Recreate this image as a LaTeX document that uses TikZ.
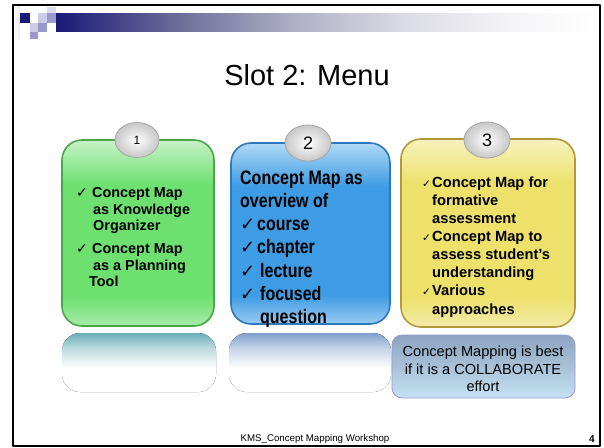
\documentclass[tikz,border=0pt]{standalone}
\usepackage{fontspec}
\setmainfont{Liberation Sans}
\newfontfamily\narrowfont[FakeStretch=0.82]{Liberation Sans}
\newfontfamily\symfont{DejaVu Sans}
\usepackage{pgf,tikz}
\usetikzlibrary{arrows}
\usetikzlibrary{arrows.meta}
\usetikzlibrary{shapes.geometric}
\definecolor{navyq}{rgb}{0.10,0.10,0.47}
\definecolor{lavlt}{rgb}{0.80,0.80,0.91}
\definecolor{lavvl}{rgb}{0.86,0.86,0.94}
\definecolor{lavmd}{rgb}{0.60,0.60,0.80}
\definecolor{barmd}{rgb}{0.42,0.42,0.60}
\definecolor{barlt}{rgb}{0.69,0.69,0.78}
\definecolor{barvl}{rgb}{0.86,0.86,0.89}
\definecolor{barwh}{rgb}{0.96,0.96,0.97}
\definecolor{grntop}{rgb}{0.78,0.95,0.78}
\definecolor{grnmid}{rgb}{0.43,0.88,0.44}
\definecolor{grnbot}{rgb}{0.66,0.92,0.66}
\definecolor{grnedge}{rgb}{0.29,0.65,0.29}
\definecolor{blutop}{rgb}{0.69,0.85,0.96}
\definecolor{blumid}{rgb}{0.24,0.61,0.89}
\definecolor{blubot}{rgb}{0.60,0.80,0.95}
\definecolor{bluedge}{rgb}{0.17,0.47,0.75}
\definecolor{ylwtop}{rgb}{0.97,0.95,0.74}
\definecolor{ylwmid}{rgb}{0.93,0.88,0.42}
\definecolor{ylwbot}{rgb}{0.95,0.92,0.66}
\definecolor{ylwedge}{rgb}{0.69,0.60,0.23}
\definecolor{rflgrn}{rgb}{0.42,0.68,0.72}
\definecolor{rflblu}{rgb}{0.50,0.63,0.80}
\definecolor{notetop}{rgb}{0.55,0.64,0.75}
\definecolor{notebot}{rgb}{0.77,0.88,0.95}
\definecolor{noteedge}{rgb}{0.60,0.60,0.80}
\pgfdeclarehorizontalshading{headbar}{100bp}{color(0bp)=(navyq); color(25bp)=(navyq); color(36bp)=(barmd); color(47bp)=(barlt); color(57bp)=(barvl); color(67bp)=(barwh); color(75bp)=(white); color(100bp)=(white)}
\pgfdeclareverticalshading{grnbox}{100bp}{color(0bp)=(grnbot); color(25bp)=(grnbot); color(33bp)=(grnmid); color(63bp)=(grnmid); color(75bp)=(grntop); color(100bp)=(grntop)}
\pgfdeclareverticalshading{blubox}{100bp}{color(0bp)=(blubot); color(25bp)=(blubot); color(33bp)=(blumid); color(63bp)=(blumid); color(75bp)=(blutop); color(100bp)=(blutop)}
\pgfdeclareverticalshading{ylwbox}{100bp}{color(0bp)=(ylwbot); color(25bp)=(ylwbot); color(33bp)=(ylwmid); color(63bp)=(ylwmid); color(75bp)=(ylwtop); color(100bp)=(ylwtop)}
\pgfdeclareverticalshading{grnrfl}{100bp}{color(0bp)=(white); color(25bp)=(white); color(45bp)=(white); color(62bp)=(rflgrn!45); color(75bp)=(rflgrn); color(100bp)=(rflgrn)}
\pgfdeclareverticalshading{blurfl}{100bp}{color(0bp)=(white); color(25bp)=(white); color(45bp)=(white); color(62bp)=(rflblu!45); color(75bp)=(rflblu); color(100bp)=(rflblu)}
\newcommand{\ck}{{\symfont\fontsize{14}{11}\selectfont\char"2713}}
\newcommand{\smallck}{{\symfont\fontsize{10.5}{11}\selectfont\char"2713}}
\newcommand{\bigck}{{\symfont\fontsize{18}{15}\selectfont\char"2713}}

\begin{document}
\begin{tikzpicture}[line cap=round,line join=round,x=1pt,y=-1pt,
  badge/.style={ellipse,draw=black!35,line width=0.8pt,inner color=white,outer color=black!22,minimum width=44pt,minimum height=35pt,inner sep=0pt}]
\useasboundingbox (0,0) rectangle (604,447);
\fill[white] (0,0) rectangle (604,447);
% header
\fill[shading=headbar] (56,13) rectangle (600,31);
\fill[left color=white,right color=lavvl!60] (13,5) rectangle (20,39);
\fill[navyq] (20,13) rectangle (30,23);
\fill[lavlt] (38,13) rectangle (47,23);
\fill[lavvl] (47,7) rectangle (56,13);
\fill[lavmd] (47,13) rectangle (56,23);
\fill[lavlt] (30,23) rectangle (38,32);
\fill[lavmd] (38,23) rectangle (47,32);
\fill[lavmd] (30,32) rectangle (38,39);
\draw [line width=2pt] (13,5) rectangle (600,446);
\draw (307,75) node (title) {\fontsize{29}{34}\selectfont Slot 2: Menu};
% reflections
\fill [rounded corners=18pt,shading=grnrfl] (62,333) rectangle (216,392);
\fill [rounded corners=18pt,shading=blurfl] (229,333) rectangle (391,392);
% boxes
\draw [rounded corners=20pt,shading=grnbox,draw=grnedge,line width=1.6pt] (62,140) rectangle (214,326);
\draw [rounded corners=20pt,shading=blubox,draw=bluedge,line width=1.6pt] (231,143) rectangle (390,324);
\draw [rounded corners=20pt,shading=ylwbox,draw=ylwedge,line width=1.6pt] (401,139) rectangle (575,327);
\node [badge] (b1) at (137,140) {\fontsize{12}{12}\selectfont 1};
\node [badge,minimum width=46pt,minimum height=36pt] (b2) at (308,143) {\fontsize{18}{18}\selectfont 2};
\node [badge,minimum width=46pt,minimum height=36pt] (b3) at (487,140) {\fontsize{18}{18}\selectfont 3};
\draw (76,187.5) node[anchor=north west,align=left,inner sep=0pt,font=\fontsize{14.4}{16.5}\selectfont\bfseries] (t1) {\makebox[16pt][l]{\ck}Concept Map\\\hspace*{17pt}as Knowledge\\\hspace*{17pt}Organizer\\[6.5pt]\makebox[16pt][l]{\ck}Concept Map\\\hspace*{17pt}as a Planning\\\hspace*{13pt}Tool};
\draw (240,170.5) node[anchor=north west,align=left,inner sep=0pt,font=\narrowfont\fontsize{19.5}{23.2}\selectfont\bfseries] (t2) {Concept Map as\\overview of\\\makebox[17pt][l]{\bigck}course\\\makebox[17pt][l]{\bigck}chapter\\\makebox[20pt][l]{\bigck}lecture\\\makebox[20pt][l]{\bigck}focused\\\hspace*{20pt}question};
\draw (422,176.5) node[anchor=north west,align=left,inner sep=0pt,font=\fontsize{14.7}{18.1}\selectfont\bfseries] (t3) {\makebox[10pt][l]{\smallck}Concept Map for\\\hspace*{10pt}formative\\\hspace*{10pt}assessment\\\makebox[10pt][l]{\smallck}Concept Map to\\\hspace*{10pt}assess student’s\\\hspace*{10pt}understanding\\\makebox[10pt][l]{\smallck}Various\\\hspace*{10pt}approaches};
% note
\draw [rounded corners=10pt,top color=notetop,bottom color=notebot,draw=noteedge,line width=0.8pt] (392,335) rectangle (575,398);
\draw (483,369) node[align=center,inner sep=0pt,font=\fontsize{14.6}{17.5}\selectfont] (note) {Concept Mapping is best\\if it is a COLLABORATE\\effort};
% footer
\draw (315,439) node[inner sep=0pt,font=\fontsize{9.7}{11}\selectfont] (foot) {KMS\_Concept Mapping Workshop};
\draw (592,439) node[inner sep=0pt,font=\fontsize{10}{11}\selectfont\bfseries] (pg) {4};
\end{tikzpicture}
\end{document}
